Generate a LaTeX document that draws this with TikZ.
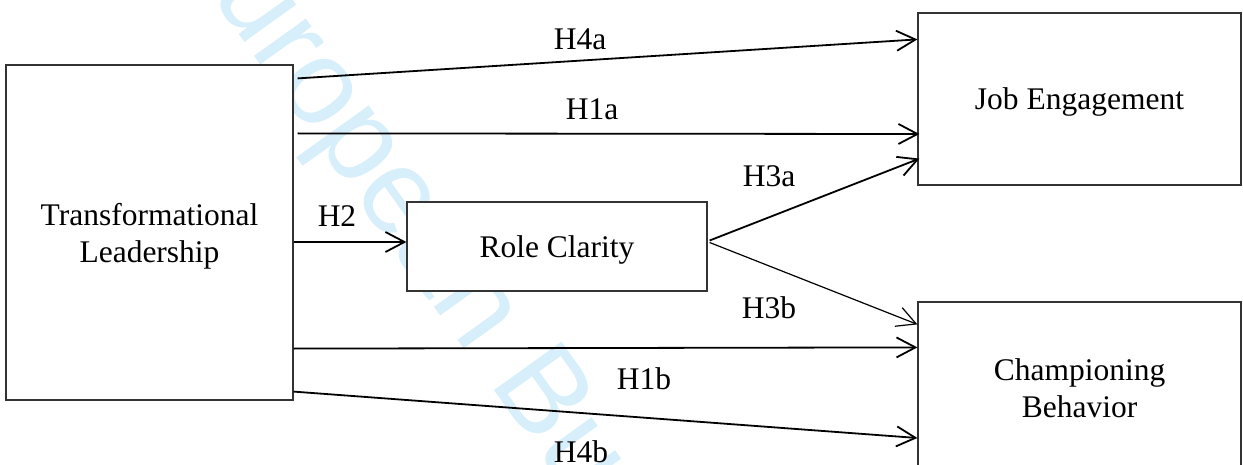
\documentclass[tikz,border=0pt]{standalone}
\usepackage{fontspec}
\setmainfont{Liberation Serif}
\newfontfamily\markfont{Liberation Sans}
\usetikzlibrary{arrows.meta}
\definecolor{markblue}{RGB}{214,239,251}

\begin{document}
\begin{tikzpicture}[x=0.5pt,y=-0.5pt,
    box/.style={draw=black!80, line width=0.6pt, fill=white, align=center, inner sep=0pt,
      text depth=0pt, font=\fontsize{15.75}{18.5}\selectfont},
    hyp/.style={inner sep=0pt, font=\fontsize{15.75}{18.5}\selectfont},
    link/.style={line width=0.9pt, -{Straight Barb[length=9.5pt,width=10pt]}}]
		\useasboundingbox (0,0) rectangle (1243,465);
		% watermark behind everything
		\node[text=markblue, font=\markfont\fontsize{60.5}{70}\selectfont, inner sep=0pt,
		  anchor=base west, rotate=-54.4] (mark) at (163.5,-71.4) {European Business Review};
		% boxes
		\node[box, minimum width=143.5pt, minimum height=167.5pt] (lead) at (149.5,232.5) {Transformational\\Leadership};
		\node[box, minimum width=150pt, minimum height=44.5pt] (role) at (557,246.5) {Role Clarity};
		\node[box, minimum width=161.5pt, minimum height=86pt] (engage) at (1079.5,99) {Job Engagement};
		\node[box, minimum width=161.5pt, minimum height=86.5pt] (champ) at (1079.5,388.5) {Championing\\Behavior};
		% paths
		\draw[link] ([shift={(4,14)}]lead.north east) -- ([shift={(0,27)}]engage.north west);
		\draw[link] ([shift={(4,69)}]lead.north east) -- ([shift={(2,35)}]engage.west);
		\draw[link] ([shift={(0,9.5)}]lead.east) -- ([shift={(0,-4.5)}]role.west);
		\draw[link] ([shift={(2,-6)}]role.east) -- ([shift={(2,-27)}]engage.south west);
		\draw[link, line width=0.6pt] ([shift={(2,-4)}]role.east) -- ([shift={(0,23)}]champ.north west);
		\draw[link] ([shift={(0,-52)}]lead.south east) -- ([shift={(0,46)}]champ.north west);
		\draw[link] ([shift={(0,-9)}]lead.south east) -- ([shift={(0,49.5)}]champ.west);
		% labels
		\node[hyp] (h4a) at (580,39) {H4a};
		\node[hyp] (h1a) at (592,109) {H1a};
		\node[hyp] (h2) at (337,216) {H2};
		\node[hyp] (h3a) at (769,176) {H3a};
		\node[hyp] (h3b) at (769,308) {H3b};
		\node[hyp] (h1b) at (644,379) {H1b};
		\node[hyp] (h4b) at (581,452) {H4b};
	\end{tikzpicture}
\end{document}
